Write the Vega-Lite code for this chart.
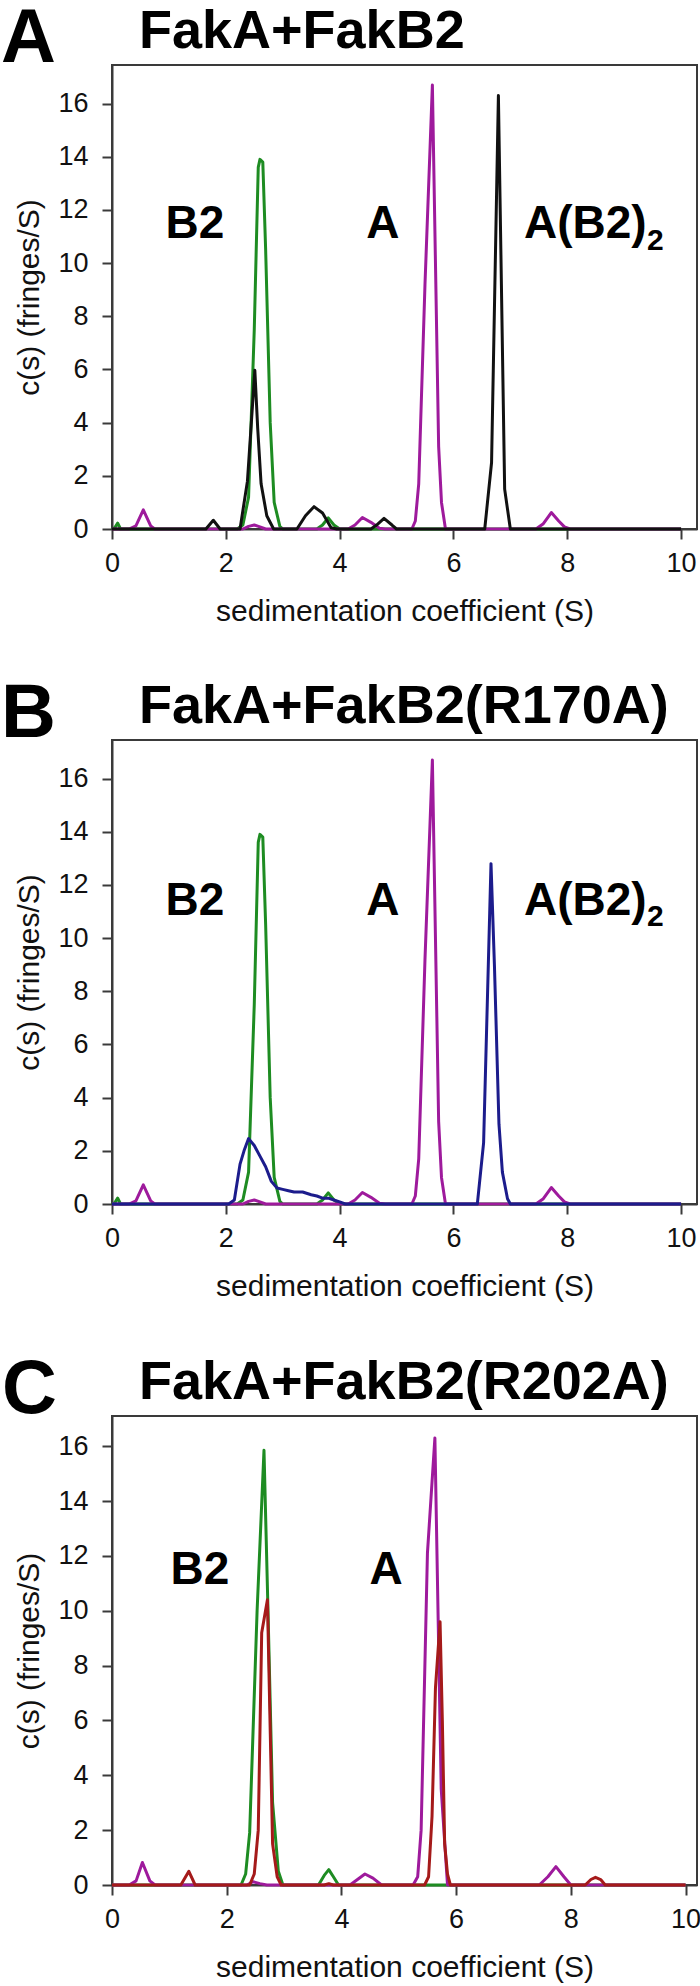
{
  "$schema": "https://vega.github.io/schema/vega-lite/v6.json",
  "padding": 0,
  "background": "white",
  "spacing": 48,
  "config": {
    "view": {"stroke": "#3a3a3a", "strokeWidth": 2},
    "axis": {"grid": false, "labelFont": "Liberation Sans", "labelFontSize": 27, "labelColor": "#111111", "titleFont": "Liberation Sans", "titleFontSize": 30, "titleFontWeight": "normal", "titleColor": "#111111", "tickColor": "#3a3a3a", "tickWidth": 2, "tickSize": 10, "domainColor": "#3a3a3a", "domainWidth": 2, "labelFlush": false, "labelOverlap": false},
    "title": {"font": "Liberation Sans", "fontSize": 54, "fontWeight": "bold", "color": "#000000", "anchor": "start", "frame": "group", "dx": 27, "offset": -58, "baseline": "alphabetic"}
  },
  "datasets": {
    "green": [
      {"s": 0, "c": 0}, {"s": 0.05, "c": 0.05}, {"s": 0.1, "c": 0.22}, {"s": 0.15, "c": 0}, {"s": 2.2, "c": 0}, {"s": 2.3, "c": 0.15}, {"s": 2.4, "c": 1.2}, {"s": 2.5, "c": 7.5}, {"s": 2.57, "c": 13.6}, {"s": 2.6, "c": 13.9}, {"s": 2.65, "c": 13.8}, {"s": 2.7, "c": 10.5}, {"s": 2.78, "c": 4}, {"s": 2.85, "c": 1}, {"s": 2.95, "c": 0.1}, {"s": 3.0, "c": 0}, {"s": 3.6, "c": 0}, {"s": 3.7, "c": 0.15}, {"s": 3.8, "c": 0.42}, {"s": 3.9, "c": 0.15}, {"s": 4.0, "c": 0}, {"s": 10, "c": 0}
    ],
    "magenta": [
      {"s": 0, "c": 0}, {"s": 0.3, "c": 0}, {"s": 0.42, "c": 0.12}, {"s": 0.55, "c": 0.72}, {"s": 0.68, "c": 0.12}, {"s": 0.75, "c": 0}, {"s": 2.3, "c": 0}, {"s": 2.4, "c": 0.1}, {"s": 2.5, "c": 0.15}, {"s": 2.6, "c": 0.08}, {"s": 2.7, "c": 0}, {"s": 4.15, "c": 0}, {"s": 4.27, "c": 0.15}, {"s": 4.4, "c": 0.43}, {"s": 4.55, "c": 0.25}, {"s": 4.7, "c": 0.03}, {"s": 4.8, "c": 0}, {"s": 5.27, "c": 0}, {"s": 5.33, "c": 0.3}, {"s": 5.39, "c": 1.7}, {"s": 5.5, "c": 9.2}, {"s": 5.63, "c": 16.7}, {"s": 5.74, "c": 3.1}, {"s": 5.79, "c": 1.0}, {"s": 5.86, "c": 0}, {"s": 7.45, "c": 0}, {"s": 7.58, "c": 0.2}, {"s": 7.72, "c": 0.62}, {"s": 7.85, "c": 0.3}, {"s": 7.95, "c": 0.08}, {"s": 8.05, "c": 0}, {"s": 10, "c": 0}
    ],
    "black": [
      {"s": 0, "c": 0}, {"s": 1.65, "c": 0}, {"s": 1.78, "c": 0.33}, {"s": 1.9, "c": 0}, {"s": 2.25, "c": 0}, {"s": 2.38, "c": 1.8}, {"s": 2.51, "c": 5.97}, {"s": 2.56, "c": 3.8}, {"s": 2.62, "c": 1.7}, {"s": 2.72, "c": 0.5}, {"s": 2.84, "c": 0}, {"s": 3.25, "c": 0}, {"s": 3.4, "c": 0.5}, {"s": 3.55, "c": 0.84}, {"s": 3.7, "c": 0.6}, {"s": 3.85, "c": 0.05}, {"s": 3.95, "c": 0}, {"s": 4.55, "c": 0}, {"s": 4.65, "c": 0.15}, {"s": 4.78, "c": 0.4}, {"s": 4.92, "c": 0.15}, {"s": 5.0, "c": 0}, {"s": 6.55, "c": 0}, {"s": 6.67, "c": 2.5}, {"s": 6.79, "c": 16.3}, {"s": 6.9, "c": 1.5}, {"s": 7.0, "c": 0}, {"s": 10, "c": 0}
    ],
    "blue": [
      {"s": 0, "c": 0}, {"s": 2.05, "c": 0}, {"s": 2.15, "c": 0.15}, {"s": 2.25, "c": 1.5}, {"s": 2.32, "c": 2.0}, {"s": 2.4, "c": 2.46}, {"s": 2.5, "c": 2.2}, {"s": 2.6, "c": 1.8}, {"s": 2.7, "c": 1.4}, {"s": 2.8, "c": 0.85}, {"s": 2.9, "c": 0.6}, {"s": 3.0, "c": 0.55}, {"s": 3.1, "c": 0.5}, {"s": 3.2, "c": 0.45}, {"s": 3.35, "c": 0.45}, {"s": 3.5, "c": 0.35}, {"s": 3.6, "c": 0.3}, {"s": 3.7, "c": 0.22}, {"s": 3.8, "c": 0.22}, {"s": 3.9, "c": 0.15}, {"s": 4.0, "c": 0.08}, {"s": 4.1, "c": 0}, {"s": 6.42, "c": 0}, {"s": 6.53, "c": 2.3}, {"s": 6.66, "c": 12.8}, {"s": 6.72, "c": 9.0}, {"s": 6.8, "c": 3.0}, {"s": 6.86, "c": 1.2}, {"s": 6.95, "c": 0.2}, {"s": 7.0, "c": 0}, {"s": 10, "c": 0}
    ],
    "greenC": [
      {"s": 0, "c": 0}, {"s": 2.25, "c": 0}, {"s": 2.33, "c": 0.4}, {"s": 2.4, "c": 1.9}, {"s": 2.53, "c": 10}, {"s": 2.65, "c": 15.85}, {"s": 2.72, "c": 10}, {"s": 2.8, "c": 3}, {"s": 2.9, "c": 0.5}, {"s": 2.98, "c": 0}, {"s": 3.6, "c": 0}, {"s": 3.7, "c": 0.35}, {"s": 3.78, "c": 0.56}, {"s": 3.86, "c": 0.3}, {"s": 3.95, "c": 0}, {"s": 10, "c": 0}
    ],
    "magentaC": [
      {"s": 0, "c": 0}, {"s": 0.3, "c": 0}, {"s": 0.42, "c": 0.15}, {"s": 0.53, "c": 0.82}, {"s": 0.66, "c": 0.15}, {"s": 0.75, "c": 0}, {"s": 2.35, "c": 0}, {"s": 2.46, "c": 0.12}, {"s": 2.58, "c": 0.05}, {"s": 2.7, "c": 0}, {"s": 4.15, "c": 0}, {"s": 4.28, "c": 0.2}, {"s": 4.41, "c": 0.4}, {"s": 4.55, "c": 0.25}, {"s": 4.7, "c": 0}, {"s": 5.25, "c": 0}, {"s": 5.33, "c": 0.3}, {"s": 5.39, "c": 2.0}, {"s": 5.5, "c": 12.1}, {"s": 5.63, "c": 16.3}, {"s": 5.74, "c": 3.5}, {"s": 5.85, "c": 0}, {"s": 7.45, "c": 0}, {"s": 7.6, "c": 0.3}, {"s": 7.74, "c": 0.67}, {"s": 7.88, "c": 0.3}, {"s": 8.0, "c": 0}, {"s": 10, "c": 0}
    ],
    "red": [
      {"s": 0, "c": 0}, {"s": 1.2, "c": 0}, {"s": 1.34, "c": 0.5}, {"s": 1.45, "c": 0}, {"s": 2.4, "c": 0}, {"s": 2.48, "c": 0.4}, {"s": 2.55, "c": 2.0}, {"s": 2.61, "c": 9.2}, {"s": 2.71, "c": 10.4}, {"s": 2.76, "c": 5.5}, {"s": 2.8, "c": 1.5}, {"s": 2.88, "c": 0.3}, {"s": 2.95, "c": 0}, {"s": 3.7, "c": 0}, {"s": 3.78, "c": 0.05}, {"s": 3.86, "c": 0}, {"s": 5.45, "c": 0}, {"s": 5.52, "c": 0.3}, {"s": 5.58, "c": 2.5}, {"s": 5.64, "c": 7.2}, {"s": 5.72, "c": 9.6}, {"s": 5.76, "c": 6}, {"s": 5.8, "c": 1.5}, {"s": 5.85, "c": 0.4}, {"s": 5.9, "c": 0}, {"s": 8.25, "c": 0}, {"s": 8.35, "c": 0.2}, {"s": 8.43, "c": 0.28}, {"s": 8.52, "c": 0.2}, {"s": 8.6, "c": 0}, {"s": 10, "c": 0}
    ]
  },
  "vconcat": [
    {
      "width": 585, "height": 464,
      "title": {"text": "FakA+FakB2"},
      "encoding": {
        "x": {"field": "s", "type": "quantitative", "scale": {"domain": [0, 10.28], "nice": false, "zero": false}, "axis": {"values": [0, 2, 4, 6, 8, 10], "title": "sedimentation coefficient (S)", "labelPadding": 11, "titlePadding": 20}},
        "y": {"field": "c", "type": "quantitative", "scale": {"domain": [0, 17.45], "nice": false}, "axis": {"values": [0, 2, 4, 6, 8, 10, 12, 14, 16], "title": "c(s) (fringes/S)", "labelPadding": 14, "titlePadding": 13}}
      },
      "layer": [
        {"data": {"name": "green"}, "mark": {"type": "line", "color": "#1e8c22", "strokeWidth": 3, "strokeJoin": "round"}},
        {"data": {"name": "magenta"}, "mark": {"type": "line", "color": "#9e1a9c", "strokeWidth": 3, "strokeJoin": "round"}},
        {"data": {"name": "black"}, "mark": {"type": "line", "color": "#111111", "strokeWidth": 3, "strokeJoin": "round"}},
        {"data": {"values": [{"t": "A", "s": -1.95, "c": 17.56}]}, "mark": {"type": "text", "align": "left", "baseline": "alphabetic", "font": "Liberation Sans", "fontSize": 76, "fontWeight": "bold", "color": "#000000", "clip": false}, "encoding": {"text": {"field": "t"}}},
        {"data": {"values": [{"t": "B2", "s": 0.94, "c": 10.93}, {"t": "A", "s": 4.47, "c": 10.93}, {"t": "A(B2)", "s": 7.24, "c": 10.93}]}, "mark": {"type": "text", "align": "left", "baseline": "alphabetic", "font": "Liberation Sans", "fontSize": 46, "fontWeight": "bold", "color": "#000000"}, "encoding": {"text": {"field": "t"}}},
        {"data": {"values": [{"t": "2", "s": 9.4, "c": 10.5}]}, "mark": {"type": "text", "align": "left", "baseline": "alphabetic", "font": "Liberation Sans", "fontSize": 30, "fontWeight": "bold", "color": "#000000"}, "encoding": {"text": {"field": "t"}}}
      ]
    },
    {
      "width": 585, "height": 464,
      "title": {"text": "FakA+FakB2(R170A)"},
      "encoding": {
        "x": {"field": "s", "type": "quantitative", "scale": {"domain": [0, 10.28], "nice": false, "zero": false}, "axis": {"values": [0, 2, 4, 6, 8, 10], "title": "sedimentation coefficient (S)", "labelPadding": 11, "titlePadding": 20}},
        "y": {"field": "c", "type": "quantitative", "scale": {"domain": [0, 17.45], "nice": false}, "axis": {"values": [0, 2, 4, 6, 8, 10, 12, 14, 16], "title": "c(s) (fringes/S)", "labelPadding": 14, "titlePadding": 13}}
      },
      "layer": [
        {"data": {"name": "green"}, "mark": {"type": "line", "color": "#1e8c22", "strokeWidth": 3, "strokeJoin": "round"}},
        {"data": {"name": "magenta"}, "mark": {"type": "line", "color": "#9e1a9c", "strokeWidth": 3, "strokeJoin": "round"}},
        {"data": {"name": "blue"}, "mark": {"type": "line", "color": "#1c1c8c", "strokeWidth": 3, "strokeJoin": "round"}},
        {"data": {"values": [{"t": "B", "s": -1.95, "c": 17.56}]}, "mark": {"type": "text", "align": "left", "baseline": "alphabetic", "font": "Liberation Sans", "fontSize": 76, "fontWeight": "bold", "color": "#000000", "clip": false}, "encoding": {"text": {"field": "t"}}},
        {"data": {"values": [{"t": "B2", "s": 0.94, "c": 10.86}, {"t": "A", "s": 4.47, "c": 10.86}, {"t": "A(B2)", "s": 7.24, "c": 10.86}]}, "mark": {"type": "text", "align": "left", "baseline": "alphabetic", "font": "Liberation Sans", "fontSize": 46, "fontWeight": "bold", "color": "#000000"}, "encoding": {"text": {"field": "t"}}},
        {"data": {"values": [{"t": "2", "s": 9.4, "c": 10.45}]}, "mark": {"type": "text", "align": "left", "baseline": "alphabetic", "font": "Liberation Sans", "fontSize": 30, "fontWeight": "bold", "color": "#000000"}, "encoding": {"text": {"field": "t"}}}
      ]
    },
    {
      "width": 585, "height": 469,
      "title": {"text": "FakA+FakB2(R202A)"},
      "encoding": {
        "x": {"field": "s", "type": "quantitative", "scale": {"domain": [0, 10.2], "nice": false, "zero": false}, "axis": {"values": [0, 2, 4, 6, 8, 10], "title": "sedimentation coefficient (S)", "labelPadding": 11, "titlePadding": 20}},
        "y": {"field": "c", "type": "quantitative", "scale": {"domain": [0, 17.1], "nice": false}, "axis": {"values": [0, 2, 4, 6, 8, 10, 12, 14, 16], "title": "c(s) (fringes/S)", "labelPadding": 14, "titlePadding": 13}}
      },
      "layer": [
        {"data": {"name": "greenC"}, "mark": {"type": "line", "color": "#1e8c22", "strokeWidth": 3, "strokeJoin": "round"}},
        {"data": {"name": "magentaC"}, "mark": {"type": "line", "color": "#9e1a9c", "strokeWidth": 3, "strokeJoin": "round"}},
        {"data": {"name": "red"}, "mark": {"type": "line", "color": "#a51a1a", "strokeWidth": 3, "strokeJoin": "round"}},
        {"data": {"values": [{"t": "C", "s": -1.92, "c": 17.21}]}, "mark": {"type": "text", "align": "left", "baseline": "alphabetic", "font": "Liberation Sans", "fontSize": 76, "fontWeight": "bold", "color": "#000000", "clip": false}, "encoding": {"text": {"field": "t"}}},
        {"data": {"values": [{"t": "B2", "s": 1.02, "c": 10.97}, {"t": "A", "s": 4.49, "c": 10.97}]}, "mark": {"type": "text", "align": "left", "baseline": "alphabetic", "font": "Liberation Sans", "fontSize": 46, "fontWeight": "bold", "color": "#000000"}, "encoding": {"text": {"field": "t"}}}
      ]
    }
  ]
}
